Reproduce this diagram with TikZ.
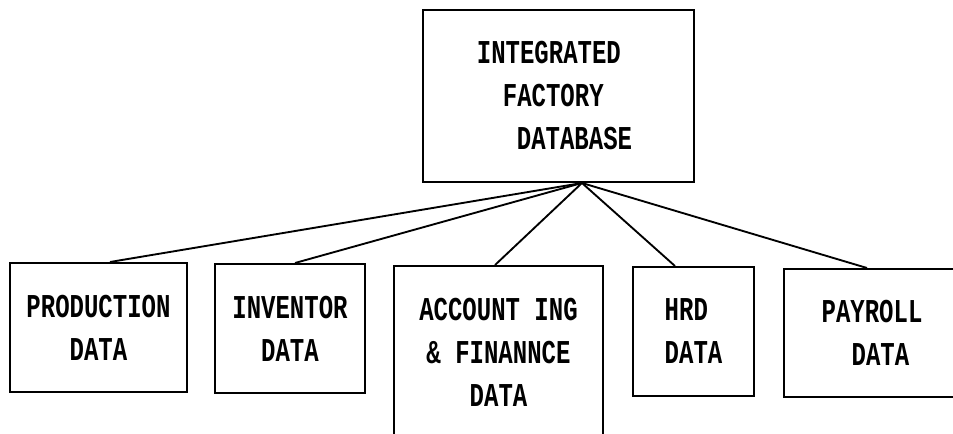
\documentclass[tikz,border=0pt]{standalone}
\usepackage{fontspec}
\setmonofont[FakeStretch=0.72]{Liberation Mono Bold}
\begin{document}
\begin{tikzpicture}[x=0.75pt, y=-0.75pt,
  box/.style={draw, line width=1.5pt, inner sep=0pt,
    font=\ttfamily\fontsize{25pt}{32.25pt}\selectfont},
  link/.style={line width=1.4pt}]
  % canvas
  \fill[white] (0,0) rectangle (953,434);
  \clip (0,0) rectangle (953,434);

  % central database
  \node[box, minimum width=203.25pt, minimum height=129pt, align=left]
    (top) at (558.5,96)
    {INTEGRATED\\\hspace*{19.5pt}FACTORY\\\hspace*{30pt}DATABASE\hspace*{6pt}};

  % departmental data stores
  \node[box, minimum width=132.75pt, minimum height=96.75pt, align=center]
    (prod) at (98.5,327.5) {PRODUCTION\\DATA};
  \node[box, minimum width=112.5pt, minimum height=96.75pt, align=center]
    (inv) at (290,328.5) {INVENTOR\\DATA};
  \node[box, minimum width=156.75pt, minimum height=129pt, align=center]
    (acc) at (498.5,352) {ACCOUNT ING\\\& FINANNCE\\DATA};
  \node[box, minimum width=90.75pt, minimum height=96.75pt, align=left]
    (hrd) at (693.5,331.5) {HRD\\DATA};
  \node[box, minimum width=132pt, minimum height=96pt, align=left]
    (pay) at (872,333) {PAYROLL\\\hspace*{22.5pt}DATA};

  % links from the central database
  \coordinate (hub) at ([xshift=17.6pt]top.south);
  \draw[link] (hub) -- ([xshift=8.6pt]prod.north);
  \draw[link] (hub) -- ([xshift=3.75pt]inv.north);
  \draw[link] (hub) -- ([xshift=-2.6pt]acc.north);
  \draw[link] (hub) -- ([xshift=-13.9pt]hrd.north);
  \draw[link] (hub) -- ([xshift=-3.75pt]pay.north);
\end{tikzpicture}
\end{document}
